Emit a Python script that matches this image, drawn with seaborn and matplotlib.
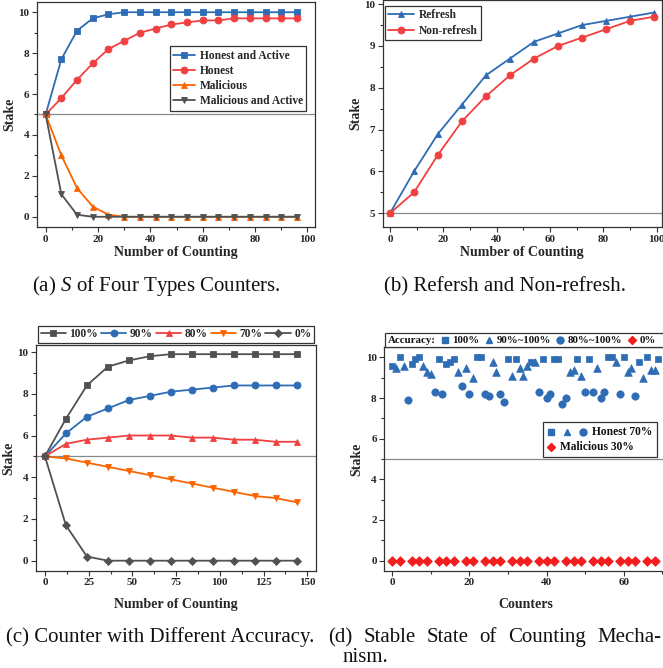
import matplotlib
matplotlib.use("Agg")
import matplotlib.pyplot as plt
import seaborn as sns
from matplotlib.ticker import MultipleLocator
from matplotlib.lines import Line2D
from matplotlib.offsetbox import AnchoredOffsetbox, HPacker, VPacker, TextArea, DrawingArea

# ---------------- data ----------------
a_x = [0, 6, 12, 18, 24, 30, 36, 42, 48, 54, 60, 66, 72, 78, 84, 90, 96]
a_honest_active = [5, 7.7, 9.1, 9.7, 9.9, 10, 10, 10, 10, 10, 10, 10, 10, 10, 10, 10, 10]
a_honest = [5, 5.8, 6.7, 7.5, 8.2, 8.6, 9.0, 9.2, 9.4, 9.5, 9.6, 9.6, 9.7, 9.7, 9.7, 9.7, 9.7]
a_malicious = [5, 3.0, 1.4, 0.5, 0.1, 0, 0, 0, 0, 0, 0, 0, 0, 0, 0, 0, 0]
a_malicious_active = [5, 1.1, 0.1, 0, 0, 0, 0, 0, 0, 0, 0, 0, 0, 0, 0, 0, 0]
a_labels = ["Honest and Active", "Honest", "Malicious", "Malicious and Active"]

b_x = [0, 9, 18, 27, 36, 45, 54, 63, 72, 81, 90, 99]
b_refresh = [5, 6.0, 6.9, 7.6, 8.3, 8.7, 9.1, 9.3, 9.5, 9.6, 9.7, 9.8]
b_nonrefresh = [5, 5.5, 6.4, 7.2, 7.8, 8.3, 8.7, 9.0, 9.2, 9.4, 9.6, 9.7]
b_labels = ["Refresh", "Non-refresh"]

c_x = [0, 12, 24, 36, 48, 60, 72, 84, 96, 108, 120, 132, 144]
c_100 = [5, 6.8, 8.4, 9.3, 9.6, 9.8, 9.9, 9.9, 9.9, 9.9, 9.9, 9.9, 9.9]
c_90 = [5, 6.1, 6.9, 7.3, 7.7, 7.9, 8.1, 8.2, 8.3, 8.4, 8.4, 8.4, 8.4]
c_80 = [5, 5.6, 5.8, 5.9, 6.0, 6.0, 6.0, 5.9, 5.9, 5.8, 5.8, 5.7, 5.7]
c_70 = [5, 4.9, 4.7, 4.5, 4.3, 4.1, 3.9, 3.7, 3.5, 3.3, 3.1, 3.0, 2.8]
c_0 = [5, 1.7, 0.2, 0, 0, 0, 0, 0, 0, 0, 0, 0, 0]
c_labels = ["100%", "90%", "80%", "70%", "0%"]

d_sq_x = [0, 2, 5, 6, 7, 12, 14, 15, 16, 22, 23, 30, 32, 36, 39, 42, 43, 48, 51, 56, 57, 60, 64, 66, 69]
d_sq_y = [9.6, 10, 9.7, 9.9, 10, 9.9, 9.7, 9.8, 9.9, 10, 10, 9.9, 9.9, 9.8, 9.9, 9.9, 9.9, 9.9, 9.9, 10, 10, 10, 9.8, 10, 9.9]
d_tri_x = [1, 3, 8, 9, 10, 17, 19, 21, 26, 27, 31, 33, 34, 35, 37, 46, 47, 49, 53, 58, 61, 62, 65, 67, 68]
d_tri_y = [9.5, 9.6, 9.6, 9.3, 9.2, 9.3, 9.5, 9.0, 9.8, 9.3, 9.1, 9.5, 9.1, 9.6, 9.8, 9.3, 9.4, 9.1, 9.5, 9.8, 9.3, 9.5, 9.0, 9.4, 9.4]
d_cir_x = [4, 11, 13, 18, 20, 24, 25, 28, 29, 38, 40, 41, 44, 45, 50, 52, 54, 55, 59, 63]
d_cir_y = [7.9, 8.3, 8.2, 8.6, 8.2, 8.2, 8.1, 8.2, 7.8, 8.3, 8.0, 8.2, 7.7, 8.0, 8.3, 8.3, 8.0, 8.3, 8.2, 8.1]
d_mal_x = [0, 2, 5, 7, 9, 12, 14, 16, 19, 21, 24, 26, 28, 31, 33, 35, 38, 40, 42, 45, 47, 49, 52, 54, 56, 59, 61, 63, 66, 68]
d_mal_y = [0] * 30
d_acc_title = "Accuracy:"
d_acc_labels = ["100%", "90%~100%", "80%~100%", "0%"]
d_labels = ["Honest 70%", "Malicious 30%"]

captions = ["(a) $S$ of Four Types Counters.", "(b) Refersh and Non-refresh.",
            "(c) Counter with Different Accuracy.", "(d) Stable State of Counting Mecha-", "nism."]

# ---------------- style ----------------
sns.set_style("ticks")
plt.rcParams["font.family"] = ["Liberation Serif", "DejaVu Serif"]
plt.rcParams["font.weight"] = "bold"
plt.rcParams["axes.labelweight"] = "bold"
plt.rcParams["mathtext.fontset"] = "custom"
plt.rcParams["mathtext.it"] = "Liberation Serif:style=italic:weight=normal"
plt.rcParams["mathtext.rm"] = "Liberation Serif:weight=normal"

BLUE = "#2E6CB5"
RED = "#F14040"
ORANGE = "#FB6501"
GRAY = "#515151"
MRED = "#F21D1D"
SPINE = "#333333"

W, H = 663.0, 668.0
PX = 0.72  # points per pixel at dpi 100
fig = plt.figure(figsize=(W / 100, H / 100), dpi=100)


def add_axes_px(left, right, top, bottom):
    return fig.add_axes([left / W, 1 - bottom / H, (right - left) / W, (bottom - top) / H])


def style_axes(ax, xmaj, xmin, ymaj, ymin, xlabel, xpad):
    for s in ax.spines.values():
        s.set_visible(True)
        s.set_color(SPINE)
        s.set_linewidth(0.9)
    ax.xaxis.set_major_locator(MultipleLocator(xmaj))
    ax.xaxis.set_minor_locator(MultipleLocator(xmin))
    ax.yaxis.set_major_locator(MultipleLocator(ymaj))
    ax.yaxis.set_minor_locator(MultipleLocator(ymin))
    ax.tick_params(which="both", direction="out", top=False, right=False,
                   color=SPINE, width=0.8, labelsize=8, pad=2)
    ax.tick_params(which="major", length=3.5)
    ax.tick_params(which="minor", length=2)
    ax.set_xlabel(xlabel, fontsize=10, fontweight="bold", labelpad=xpad)
    ax.set_ylabel("Stake", fontsize=10, fontweight="bold", labelpad=1.5)
    ax.axhline(5, color="#8a8a8a", lw=0.9, zorder=1)


def line(ax, x, y, color, marker, label, ms=5):
    sns.lineplot(x=x, y=y, ax=ax, color=color, marker=marker, markersize=ms,
                 markeredgecolor=color, markeredgewidth=0.6, linewidth=1.3,
                 label=label, zorder=3)


def frame_style(patch):
    patch.set_boxstyle("square", pad=0)
    patch.set_edgecolor(SPINE)
    patch.set_linewidth(0.9)
    patch.set_facecolor("white")


leg_kw = dict(frameon=True, fancybox=False, framealpha=1, edgecolor=SPINE,
              prop={"weight": "bold", "size": 8.3})

# ---------------- (a) ----------------
ax = add_axes_px(37, 315, 2, 227)
line(ax, a_x, a_honest_active, BLUE, "s", a_labels[0], 4.6)
line(ax, a_x, a_honest, RED, "o", a_labels[1])
line(ax, a_x, a_malicious, ORANGE, "^", a_labels[2])
line(ax, a_x, a_malicious_active, GRAY, "v", a_labels[3])
ax.set_xlim(-3.3, 102.9)
ax.set_ylim(-0.5, 10.5)
style_axes(ax, 20, 10, 2, 1, "Number of Counting", 2)
lg = ax.legend(loc="upper right", bbox_to_anchor=(0.968, 0.804), borderaxespad=0,
               handlelength=1.9, handletextpad=0.4, borderpad=0.3, labelspacing=0.28, **leg_kw)
lg.get_frame().set_linewidth(0.9)

# ---------------- (b) ----------------
ax = add_axes_px(382.7, 661.7, 0, 227)
line(ax, b_x, b_refresh, BLUE, "^", b_labels[0])
line(ax, b_x, b_nonrefresh, RED, "o", b_labels[1])
ax.set_xlim(-2.75, 101.9)
ax.set_ylim(4.67, 10.1)
style_axes(ax, 20, 10, 1, 0.5, "Number of Counting", 2)
lg = ax.legend(loc="upper left", bbox_to_anchor=(0.008, 0.975), borderaxespad=0,
               handlelength=2.2, handletextpad=0.45, borderpad=0.3, labelspacing=0.3, **leg_kw)
lg.get_frame().set_linewidth(0.9)

# ---------------- (c) ----------------
ax = add_axes_px(36, 316, 345, 570.7)
line(ax, c_x, c_100, GRAY, "s", c_labels[0], 4.6)
line(ax, c_x, c_90, BLUE, "o", c_labels[1])
line(ax, c_x, c_80, RED, "^", c_labels[2])
line(ax, c_x, c_70, ORANGE, "v", c_labels[3])
line(ax, c_x, c_0, GRAY, "D", c_labels[4], 4.3)
ax.set_xlim(-5.1, 155)
ax.set_ylim(-0.48, 10.34)
style_axes(ax, 25, 12.5, 2, 1, "Number of Counting", 8)
lg = ax.legend(loc="lower left", bbox_to_anchor=(0, 1.0, 1, 0.08), mode="expand",
               ncol=5, borderaxespad=0.15, handlelength=2.2, handletextpad=0.3,
               columnspacing=0.6, borderpad=0.25, **leg_kw)
lg.get_frame().set_linewidth(0.9)

# ---------------- (d) ----------------
ax = add_axes_px(384.3, 666.5, 347.3, 570.7)
sns.scatterplot(x=d_sq_x, y=d_sq_y, ax=ax, marker="s", s=22, color=BLUE, edgecolor=BLUE, linewidth=0.5, zorder=3)
sns.scatterplot(x=d_tri_x, y=d_tri_y, ax=ax, marker="^", s=30, color=BLUE, edgecolor=BLUE, linewidth=0.5, zorder=3)
sns.scatterplot(x=d_cir_x, y=d_cir_y, ax=ax, marker="o", s=28, color=BLUE, edgecolor=BLUE, linewidth=0.5, zorder=3)
sns.scatterplot(x=d_mal_x, y=d_mal_y, ax=ax, marker="D", s=22, color=MRED, edgecolor=MRED, linewidth=0.8, zorder=3)
ax.set_xlim(-2.07, 71.1)
ax.set_ylim(-0.5, 10.5)
style_axes(ax, 20, 10, 2, 1, "Counters", 8)


def marker_area(specs, width_px, height_px=10):
    da = DrawingArea(width_px * PX, height_px * PX, 0, 0)
    for m, c, ms, xpx in specs:
        da.add_artist(Line2D([xpx * PX], [height_px * PX / 2], linestyle="none", marker=m,
                             color=c, markeredgecolor=c, markersize=ms))
    return da


def text_area(s, size):
    return TextArea(s, textprops=dict(fontsize=size, fontweight="bold", color="#111111"))


# top "Accuracy" legend
tsz = 7.8
top_markers = [("s", BLUE, 4.6), ("^", BLUE, 5), ("o", BLUE, 5), ("D", MRED, 4.4)]
items = [text_area(d_acc_title, tsz)]
for (m, c, ms), lab in zip(top_markers, d_acc_labels):
    items.append(marker_area([(m, c, ms, 9)], 17))
    items.append(text_area(lab, tsz))
items.append(DrawingArea(30 * PX, 2, 0, 0))
top_box = HPacker(children=items, align="center", pad=0, sep=0)
ab = AnchoredOffsetbox(loc="lower left", child=top_box, pad=0.2, borderpad=0.0,
                       frameon=True, bbox_to_anchor=(0.004, 1.0),
                       bbox_transform=ax.transAxes, prop=dict(size=tsz))
frame_style(ab.patch)
ax.add_artist(ab)

# inner Honest / Malicious legend
isz = 8.3
row1 = HPacker(children=[marker_area([("s", BLUE, 4.6, 4), ("^", BLUE, 5, 20), ("o", BLUE, 5, 36)], 40),
                         text_area(d_labels[0], isz)], align="center", pad=0, sep=3.5)
row2 = HPacker(children=[marker_area([("D", MRED, 4.4, 4)], 8),
                         text_area(d_labels[1], isz)], align="center", pad=0, sep=3.5)
inner = VPacker(children=[row1, row2], align="left", pad=0, sep=2.5)
ab2 = AnchoredOffsetbox(loc="upper right", child=inner, pad=0.35, borderpad=0.0,
                        frameon=True, bbox_to_anchor=(0.965, 0.667),
                        bbox_transform=ax.transAxes, prop=dict(size=isz))
frame_style(ab2.patch)
ax.add_artist(ab2)

# ---------------- captions ----------------
cap_kw = dict(fontsize=15, fontweight="normal", color="#111111")
fig.text(156.5 / W, 1 - 291 / H, captions[0], ha="center", va="baseline", **cap_kw)
fig.text(505 / W, 1 - 291 / H, captions[1], ha="center", va="baseline", **cap_kw)
fig.text(160 / W, 1 - 642 / H, captions[2], ha="center", va="baseline", **cap_kw)
fig.text(343 / W, 1 - 662 / H, captions[4], ha="left", va="baseline", **cap_kw)

# justified first line of caption (d)
renderer = fig.canvas.get_renderer()
words = captions[3].split(" ")
x_left, x_right = 328.0, 661.0
texts = [fig.text(0, 1 - 642 / H, w, ha="left", va="baseline", **cap_kw) for w in words]
widths = [t.get_window_extent(renderer).width for t in texts]
gap = (x_right - x_left - sum(widths)) / (len(words) - 1)
xcur = x_left
for t, wdt in zip(texts, widths):
    t.set_x(xcur / W)
    xcur += wdt + gap

fig.savefig("out.png", dpi=100)
